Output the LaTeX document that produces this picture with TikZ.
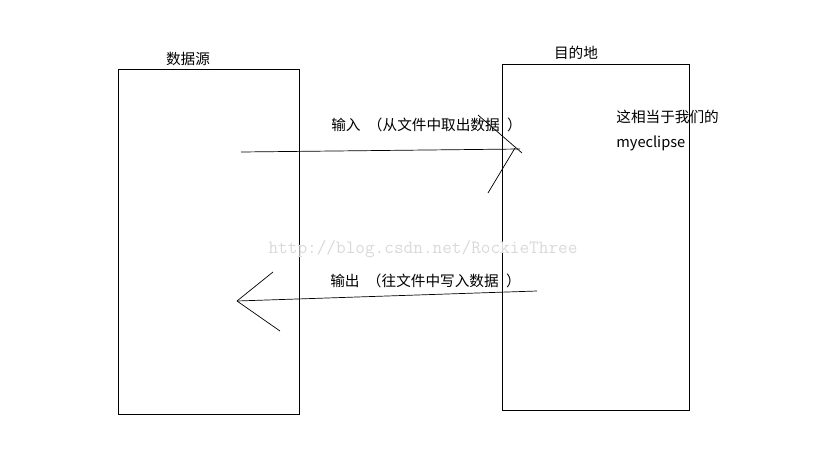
\documentclass[tikz,border=0pt]{standalone}
\usepackage{fontspec}
\newfontfamily\cjk{Noto Sans CJK SC}
\begin{document}
\begin{tikzpicture}[x=0.03cm,y=-0.03cm,line width=0.6pt,
  box/.style={draw,rectangle,inner sep=0pt},
  lbl/.style={font=\cjk\fontsize{12.5}{15}\selectfont,inner sep=0pt}]
\useasboundingbox (0,0) rectangle (828,476);
% the two boxes
\node[box, minimum width=5.43cm, minimum height=10.35cm] (src) at (208.5,241.5) {};
\node[box, minimum width=5.61cm, minimum height=10.38cm] (dst) at (595.5,237) {};
\node[lbl] (srcname) at (188,59) {数据源};
\node[lbl] (dstname) at (576,53) {目的地};
\node[lbl,anchor=west] (note1) at (616,117) {这相当于我们的};
\node[lbl,anchor=west] (note2) at (616,143) {myeclipse};
% watermark
\node[font=\ttfamily\fontsize{16}{18}\selectfont,text=black!15,inner sep=0pt] (wm) at (423,249) {http://blog.csdn.net/RockieThree};
% input arrow
\coordinate (inA) at (241,152);
\coordinate (inB) at (520,149);
\coordinate (inU1) at (478,115);
\coordinate (inU2) at (522,153);
\coordinate (inL1) at (488,193);
\coordinate (inL2) at (515,148);
\draw (inA) -- (inB);
\draw (inU1) -- (inU2);
\draw (inL1) -- (inL2);
\node[lbl,anchor=west] (inlbl) at (331,125) {输入\hspace{0.5em}（从文件中取出数据\hspace{0.5em}）};
% output arrow
\coordinate (outA) at (537,291);
\coordinate (outB) at (237,301);
\coordinate (outU) at (273,272);
\coordinate (outL) at (280,331);
\draw (outA) -- (outB);
\draw (outB) -- (outU);
\draw (outB) -- (outL);
\node[lbl,anchor=west] (outlbl) at (330,281) {输出\hspace{0.5em}（往文件中写入数据\hspace{0.5em}）};
\end{tikzpicture}
\end{document}
